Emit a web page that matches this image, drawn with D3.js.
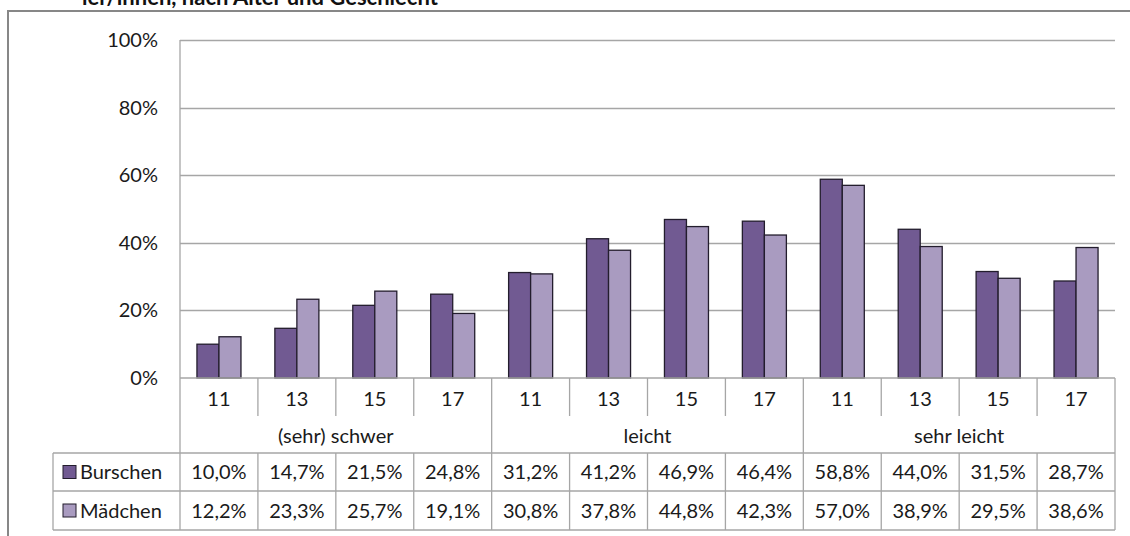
<!DOCTYPE html>
<html>
<head>
<meta charset="UTF-8">
<title>Chart</title>
<script src="https://cdn.jsdelivr.net/npm/d3@7"></script>
<style>
    body { margin: 0; background: #fff; }
    svg { display: block; font-family: Lato, "Open Sans", sans-serif; }
</style>
</head>
<body>
<svg id="chart" width="1130" height="536"></svg>
<script>
// data
var groups = ["(sehr) schwer", "leicht", "sehr leicht"];
var ages = ["11", "13", "15", "17"];
var seriesNames = ["Burschen", "Mädchen"];
var burschen = [10.0, 14.7, 21.5, 24.8, 31.2, 41.2, 46.9, 46.4, 58.8, 44.0, 31.5, 28.7];
var maedchen = [12.2, 23.3, 25.7, 19.1, 30.8, 37.8, 44.8, 42.3, 57.0, 38.9, 29.5, 38.6];
var yTicks = [0, 20, 40, 60, 80, 100];
var colors = ["#715a92", "#a99bc0"];

var svg = d3.select("#chart");
var plotL = 180, plotR = 1115, plotT = 40, plotB = 378;
var rowAge = 416, rowGroup = 453, rowB = 491, rowM = 530, legendLeft = 53;
var gridColor = "#a6a6a6";
var fs = 20;

// every category = group + age
var cats = [];
groups.forEach(function (g) {
    ages.forEach(function (a) { cats.push(g + "|" + a); });
});
var series = [burschen, maedchen];

var x0 = d3.scaleBand().domain(cats).range([plotL, plotR]).padding(0);
var bw = x0.bandwidth();
var gap = bw * 0.77 / 1.77 / 2;
var x1 = d3.scaleBand().domain(seriesNames).range([gap, bw - gap]).padding(0);
var y = d3.scaleLinear().domain([0, 100]).range([plotB, plotT]);

// outer chart border
svg.append("rect")
    .attr("x", 8).attr("y", 11)
    .attr("width", 1140).attr("height", 560)
    .attr("fill", "none").attr("stroke", "#878787").attr("stroke-width", 2);

// title remnant (cut off at the top, as in the source)
svg.append("text")
    .attr("x", 82).attr("y", 5)
    .attr("font-weight", "bold").attr("font-size", 22).attr("fill", "#111")
    .text("ler/innen, nach Alter und Geschlecht");

// gridlines
svg.append("g").selectAll("line")
    .data(yTicks.filter(function (d) { return d > 0; }))
    .enter().append("line")
    .attr("x1", plotL).attr("x2", plotR)
    .attr("y1", function (d) { return Math.round(y(d)) + 0.5; })
    .attr("y2", function (d) { return Math.round(y(d)) + 0.5; })
    .attr("stroke", gridColor).attr("stroke-width", 1.3);

// y labels
svg.append("g").selectAll("text")
    .data(yTicks)
    .enter().append("text")
    .attr("x", 158)
    .attr("y", function (d) { return y(d); })
    .attr("dy", "0.35em")
    .attr("text-anchor", "end")
    .attr("font-size", fs).attr("fill", "#1a1a1a")
    .text(function (d) { return d + "%"; });

// bars
var barG = svg.append("g");
series.forEach(function (vals, si) {
    barG.selectAll(".s" + si)
        .data(vals)
        .enter().append("rect")
        .attr("class", "s" + si)
        .attr("x", function (d, i) { return x0(cats[i]) + x1(seriesNames[si]); })
        .attr("y", function (d) { return y(d); })
        .attr("width", x1.bandwidth())
        .attr("height", function (d) { return plotB - y(d); })
        .attr("fill", colors[si])
        .attr("stroke", "#231d2d").attr("stroke-width", 1.3);
});

// table lines
var tg = svg.append("g").attr("stroke", gridColor).attr("stroke-width", 1.3);
function hline(yy, xa, xb) {
    tg.append("line").attr("x1", xa).attr("x2", xb).attr("y1", yy).attr("y2", yy);
}
function vline(xx, ya, yb) {
    tg.append("line").attr("x1", xx).attr("x2", xx).attr("y1", ya).attr("y2", yb);
}
vline(plotL, plotT, rowM);
hline(plotB, plotL, plotR);
hline(rowGroup, legendLeft, plotR);
hline(rowB, legendLeft, plotR);
hline(rowM, legendLeft, plotR);
vline(legendLeft, rowGroup, rowM);
vline(plotR, plotB, rowM);
cats.forEach(function (c, i) {
    if (i === 0) return;
    var xx = x0(c);
    if (i % ages.length === 0) vline(xx, plotB, rowM);
    else {
        vline(xx, plotB, rowAge);
        vline(xx, rowGroup, rowM);
    }
});

// age labels
svg.append("g").selectAll("text")
    .data(cats)
    .enter().append("text")
    .attr("x", function (d) { return x0(d) + bw / 2; })
    .attr("y", (plotB + rowAge) / 2 + 2)
    .attr("dy", "0.35em")
    .attr("text-anchor", "middle")
    .attr("font-size", fs).attr("fill", "#1a1a1a")
    .text(function (d) { return d.split("|")[1]; });

// group labels
svg.append("g").selectAll("text")
    .data(groups)
    .enter().append("text")
    .attr("x", function (g) { return x0(g + "|" + ages[0]) + bw * ages.length / 2; })
    .attr("y", (rowAge + rowGroup) / 2 + 1)
    .attr("dy", "0.35em")
    .attr("text-anchor", "middle")
    .attr("font-size", fs).attr("fill", "#1a1a1a")
    .text(function (d) { return d; });

// data rows with legend keys
var rowsY = [(rowGroup + rowB) / 2, (rowB + rowM) / 2];
series.forEach(function (vals, si) {
    var cy = rowsY[si];
    svg.append("rect")
        .attr("x", 63).attr("y", cy - 6.5)
        .attr("width", 13).attr("height", 13)
        .attr("fill", colors[si]).attr("stroke", "#231d2d").attr("stroke-width", 1);
    svg.append("text")
        .attr("x", 80).attr("y", cy).attr("dy", "0.35em")
        .attr("font-size", fs).attr("fill", "#1a1a1a")
        .text(seriesNames[si]);
    svg.append("g").selectAll("text")
        .data(vals)
        .enter().append("text")
        .attr("x", function (d, i) { return x0(cats[i]) + bw / 2; })
        .attr("y", cy).attr("dy", "0.35em")
        .attr("text-anchor", "middle")
        .attr("font-size", fs).attr("fill", "#1a1a1a")
        .text(function (d) { return d.toFixed(1).replace(".", ",") + "%"; });
});
</script>
</body>
</html>
